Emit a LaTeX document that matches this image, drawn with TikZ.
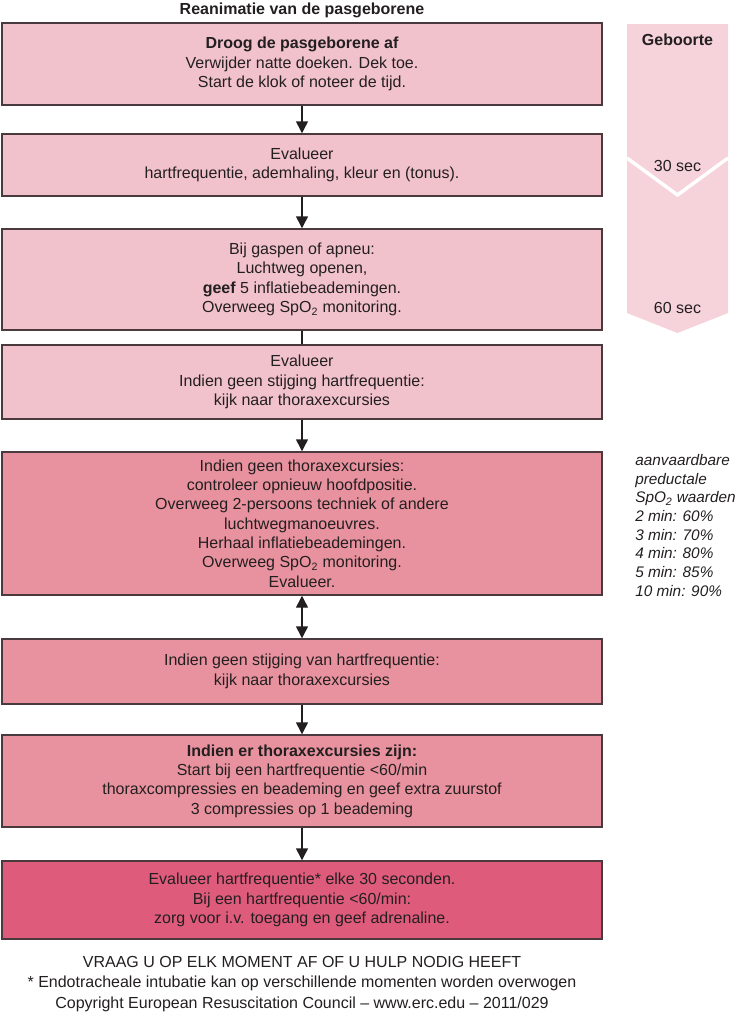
\documentclass[tikz,border=0pt]{standalone}
\usepackage{fontspec}
\setmainfont{Liberation Sans}
\usetikzlibrary{arrows.meta}
\definecolor{lightpink}{HTML}{F2C2CC}
\definecolor{midpink}{HTML}{E9929F}
\definecolor{darkpink}{HTML}{DF5B7C}
\definecolor{timepink}{HTML}{F6D3DA}
\definecolor{edge}{HTML}{4A3A3E}
\definecolor{ink}{HTML}{231F20}
\tikzset{
  box/.style={draw=edge, line width=1.1pt, rectangle, minimum width=450pt, align=center,
    text=ink, font=\fontsize{12}{14.5}\selectfont, inner sep=2pt},
  arr/.style={draw=ink, line width=1.1pt, -{Triangle[length=9pt,width=9pt]}},
  darr/.style={draw=ink, line width=1.1pt, {Triangle[length=9pt,width=9pt]}-{Triangle[length=9pt,width=9pt]}},
  plainline/.style={draw=ink, line width=1.1pt},
  lbl/.style={text=ink, font=\fontsize{12}{14.5}\selectfont, align=center, inner sep=0pt},
  spo/.style={text=ink, font=\fontsize{11.5}{14}\selectfont\itshape, align=left, inner sep=0pt, anchor=north west},
}
\begin{document}
\begin{tikzpicture}[x=0.75pt,y=-0.75pt]
\useasboundingbox (0,0) rectangle (737,1014);
% title
\node[lbl, font=\fontsize{12}{14.5}\selectfont\bfseries] (title) at (302,10) {Reanimatie van de pasgeborene};
% timeline
\fill[timepink] (627,24) -- (728,24) -- (728,313) -- (677.5,333) -- (627,313) -- cycle;
\draw[white, line width=2.6pt] (627,158) -- (677.5,195) -- (728,158);
\node[lbl, font=\fontsize{12}{14.5}\selectfont\bfseries] (geb) at (677.5,40) {Geboorte};
\node[lbl] (t30) at (677.5,166) {30 sec};
\node[lbl] (t60) at (677.5,308) {60 sec};
% boxes
\node[box, fill=lightpink, minimum height=61.5pt] (b1) at (302,64) {\textbf{Droog de pasgeborene af}\\Verwijder natte doeken. Dek toe.\\Start de klok of noteer de tijd.};
\node[box, fill=lightpink, minimum height=46.5pt] (b2) at (302,165) {Evalueer\\hartfrequentie, ademhaling, kleur en (tonus).};
\node[box, fill=lightpink, minimum height=75.75pt] (b3) at (302,279.5) {Bij gaspen of apneu:\\Luchtweg openen,\\\textbf{geef} 5 inflatiebeademingen.\\Overweeg SpO\textsubscript{2} monitoring.};
\node[box, fill=lightpink, minimum height=55.5pt] (b4) at (302,382) {Evalueer\\Indien geen stijging hartfrequentie:\\kijk naar thoraxexcursies};
\node[box, fill=midpink, minimum height=107.25pt] (b5) at (302,523.5) {Indien geen thoraxexcursies:\\controleer opnieuw hoofdpositie.\\Overweeg 2-persoons techniek of andere\\luchtwegmanoeuvres.\\Herhaal inflatiebeademingen.\\Overweeg SpO\textsubscript{2} monitoring.\\Evalueer.};
\node[box, fill=midpink, minimum height=48.75pt] (b6) at (302,671.5) {Indien geen stijging van hartfrequentie:\\kijk naar thoraxexcursies};
\node[box, fill=midpink, minimum height=69pt] (b7) at (302,781) {\textbf{Indien er thoraxexcursies zijn:}\\Start bij een hartfrequentie <60/min\\thoraxcompressies en beademing en geef extra zuurstof\\3 compressies op 1 beademing};
\node[box, fill=darkpink, minimum height=58.5pt] (b8) at (302,900) {Evalueer hartfrequentie* elke 30 seconden.\\Bij een hartfrequentie <60/min:\\zorg voor i.v. toegang en geef adrenaline.};
% connectors
\draw[arr] (b1.south) -- (b2.north);
\draw[arr] (b2.south) -- (b3.north);
\draw[plainline] (b3.south) -- (b4.north);
\draw[arr] (b4.south) -- (b5.north);
\draw[darr] (b5.south) -- (b6.north);
\draw[arr] (b6.south) -- (b7.north);
\draw[arr] (b7.south) -- (b8.north);
% SpO2 values
\node[spo] (spo) at (635,454) {aanvaardbare\\preductale\\SpO\textsubscript{2} waarden\\2 min: 60\%\\3 min: 70\%\\4 min: 80\%\\5 min: 85\%\\10 min: 90\%};
% footer
\node[lbl] (f1) at (302,962) {VRAAG U OP ELK MOMENT AF OF U HULP NODIG HEEFT};
\node[lbl] (f2) at (302,983) {* Endotracheale intubatie kan op verschillende momenten worden overwogen};
\node[lbl] (f3) at (302,1004) {Copyright European Resuscitation Council – www.erc.edu – 2011/029};
\end{tikzpicture}
\end{document}
